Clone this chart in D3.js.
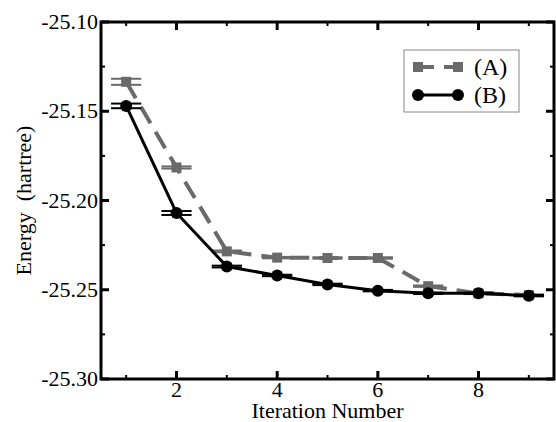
<!DOCTYPE html>
<html>
<head>
<meta charset="utf-8">
<script src="https://cdn.jsdelivr.net/npm/d3@7"></script>
<style>
  body { margin: 0; background: #fff; }
</style>
</head>
<body>
<div id="chart"></div>
<script>
const iterations = [1, 2, 3, 4, 5, 6, 7, 8, 9];
const energyA = [-25.1335, -25.1815, -25.2285, -25.2320, -25.2322, -25.2322, -25.2480, -25.2520, -25.2530];
const energyB = [-25.1470, -25.2070, -25.2370, -25.2420, -25.2470, -25.2505, -25.2520, -25.2520, -25.2533];
const errorA = [0.0017, 0.0006, 0.0005, 0.0004, 0.0004, 0.0004, 0.0004, 0.0004, 0.0004];
const errorB = [0.0013, 0.0011, 0.0005, 0.0004, 0.0004, 0.0004, 0.0004, 0.0004, 0.0004];
const xTicks = [2, 4, 6, 8];
const yTicks = [-25.30, -25.25, -25.20, -25.15, -25.10];
const seriesNames = ['(A)', '(B)'];

const width = 556, height = 422;
const margin = { top: 22, right: 2, bottom: 43, left: 101 };
const serif = '"Liberation Serif", "Times New Roman", Times, "DejaVu Serif", serif';

const svg = d3.select('#chart').append('svg')
    .attr('width', width)
    .attr('height', height)
    .style('font-family', serif);

const x = d3.scaleLinear().domain([0.5, 9.5]).range([margin.left, width - margin.right]);
const y = d3.scaleLinear().domain([-25.30, -25.10]).range([height - margin.bottom, margin.top]);

const grayA = '#6a6a6a';

// Series data
const series = [
    { name: seriesNames[0], values: energyA, errors: errorA, color: grayA, width: 4, dash: '19,10' },
    { name: seriesNames[1], values: energyB, errors: errorB, color: '#000', width: 3, dash: null }
];

const line = d3.line()
    .x(d => x(d.x))
    .y(d => y(d.y));

series.forEach(s => {
    const pts = iterations.map((it, i) => ({ x: it, y: s.values[i], e: s.errors[i] }));
    const g = svg.append('g');

    // error bar caps
    pts.forEach(p => {
        [p.y - p.e, p.y + p.e].forEach(v => {
            g.append('line')
                .attr('x1', x(p.x - 0.3)).attr('x2', x(p.x + 0.3))
                .attr('y1', y(v)).attr('y2', y(v))
                .attr('stroke', s.color)
                .attr('stroke-width', 2);
        });
    });

    g.append('path')
        .datum(pts)
        .attr('fill', 'none')
        .attr('stroke', s.color)
        .attr('stroke-width', s.width)
        .attr('stroke-dasharray', s.dash)
        .attr('d', line);

    if (s.name === '(A)') {
        g.selectAll('rect').data(pts).join('rect')
            .attr('x', d => x(d.x) - 5).attr('y', d => y(d.y) - 5)
            .attr('width', 10).attr('height', 10)
            .attr('fill', s.color);
    } else {
        g.selectAll('circle').data(pts).join('circle')
            .attr('cx', d => x(d.x)).attr('cy', d => y(d.y))
            .attr('r', 6)
            .attr('fill', s.color);
    }
});

// Frame and ticks
const x0 = x.range()[0], x1 = x.range()[1];
const y0 = y.range()[0], y1 = y.range()[1];

const axes = svg.append('g').attr('stroke', '#000');
const minorX = [1, 3, 5, 7, 9];
const minorY = d3.range(0, 4).map(i => -25.275 + i * 0.05);

xTicks.forEach(t => {
    axes.append('line').attr('x1', x(t)).attr('x2', x(t)).attr('y1', y0).attr('y2', y0 - 8).attr('stroke-width', 3);
    axes.append('line').attr('x1', x(t)).attr('x2', x(t)).attr('y1', y1).attr('y2', y1 + 8).attr('stroke-width', 3);
});
minorX.forEach(t => {
    axes.append('line').attr('x1', x(t)).attr('x2', x(t)).attr('y1', y0).attr('y2', y0 - 4).attr('stroke-width', 2);
    axes.append('line').attr('x1', x(t)).attr('x2', x(t)).attr('y1', y1).attr('y2', y1 + 4).attr('stroke-width', 2);
});
yTicks.forEach(t => {
    axes.append('line').attr('x1', x0).attr('x2', x0 + 8).attr('y1', y(t)).attr('y2', y(t)).attr('stroke-width', 3);
    axes.append('line').attr('x1', x1).attr('x2', x1 - 8).attr('y1', y(t)).attr('y2', y(t)).attr('stroke-width', 3);
});
minorY.forEach(t => {
    axes.append('line').attr('x1', x0).attr('x2', x0 + 4).attr('y1', y(t)).attr('y2', y(t)).attr('stroke-width', 2);
    axes.append('line').attr('x1', x1).attr('x2', x1 - 4).attr('y1', y(t)).attr('y2', y(t)).attr('stroke-width', 2);
});

axes.append('rect')
    .attr('x', x0).attr('y', y1)
    .attr('width', x1 - x0).attr('height', y0 - y1)
    .attr('fill', 'none')
    .attr('stroke-width', 3);

// Tick labels
svg.append('g').selectAll('text').data(xTicks).join('text')
    .attr('x', d => x(d))
    .attr('y', y0 + 18)
    .attr('text-anchor', 'middle')
    .style('font-family', serif)
    .style('font-size', '22px')
    .text(d => d);

svg.append('g').selectAll('text').data(yTicks).join('text')
    .attr('x', x0 - 3)
    .attr('y', d => y(d) + 7)
    .attr('text-anchor', 'end')
    .style('font-family', serif)
    .style('font-size', '22px')
    .text(d => d.toFixed(2));

// Axis titles
svg.append('text')
    .attr('x', (x0 + x1) / 2)
    .attr('y', 418)
    .attr('text-anchor', 'middle')
    .style('font-family', serif)
    .style('font-size', '22px')
    .text('Iteration Number');

svg.append('text')
    .attr('transform', `translate(31,${(y0 + y1) / 2}) rotate(-90)`)
    .attr('text-anchor', 'middle')
    .style('font-family', serif)
    .style('font-size', '22px')
    .style('white-space', 'pre')
    .text('Energy  (hartree)');

// Legend
const legend = svg.append('g');
legend.append('rect')
    .attr('x', 404).attr('y', 50)
    .attr('width', 115).attr('height', 62)
    .attr('fill', '#fff')
    .attr('stroke', '#888')
    .attr('stroke-width', 1);

series.forEach((s, i) => {
    const ly = 67 + i * 28;
    legend.append('line')
        .attr('x1', 418).attr('x2', 458)
        .attr('y1', ly).attr('y2', ly)
        .attr('stroke', s.color)
        .attr('stroke-width', s.width)
        .attr('stroke-dasharray', s.dash ? '16,10' : null);
    if (i === 0) {
        [418, 458].forEach(cx => legend.append('rect')
            .attr('x', cx - 5).attr('y', ly - 5).attr('width', 10).attr('height', 10)
            .attr('fill', s.color));
    } else {
        [418, 458].forEach(cx => legend.append('circle')
            .attr('cx', cx).attr('cy', ly).attr('r', 6).attr('fill', s.color));
    }
    legend.append('text')
        .attr('x', 474).attr('y', ly + 8)
        .style('font-family', serif)
        .style('font-size', '24px')
        .text(s.name);
});
</script>
</body>
</html>
